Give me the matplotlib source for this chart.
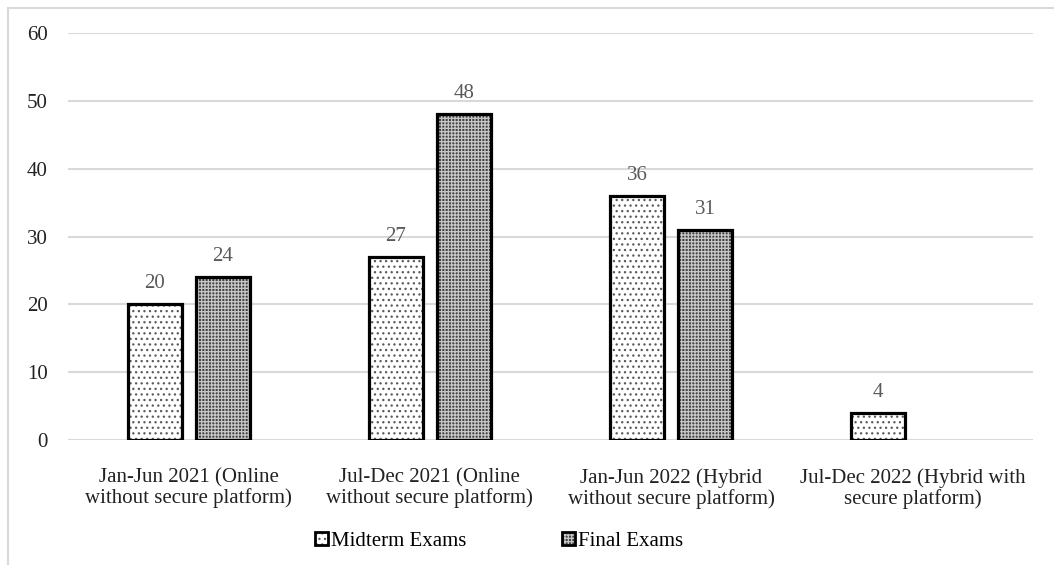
import numpy as np
import matplotlib
matplotlib.use("Agg")
import matplotlib.pyplot as plt
from matplotlib.patches import Patch, Rectangle

plt.rcParams['font.family'] = ['Liberation Serif', 'DejaVu Serif']
plt.rcParams['hatch.linewidth'] = 0.9

categories = [
    "Jan-Jun 2021 (Online\nwithout secure platform)",
    "Jul-Dec 2021 (Online\nwithout secure platform)",
    "Jan-Jun 2022 (Hybrid\nwithout secure platform)",
    "Jul-Dec 2022 (Hybrid with\nsecure platform)",
]
midterm = [20, 27, 36, 4]
final = [24, 48, 31, np.nan]
series_names = ["Midterm Exams", "Final Exams"]
yticks = [0, 10, 20, 30, 40, 50, 60]

W, H = 1054, 565
fig = plt.figure(figsize=(W / 100, H / 100), dpi=100)
ax = fig.add_axes([68 / W, 125 / H, (1033 - 68) / W, (532 - 125) / H])

# light outer frame of the chart area
fig.patches.append(Rectangle((8 / W, -0.1), 1.2, (H - 8) / H + 0.1,
                             transform=fig.transFigure, fill=False,
                             edgecolor='#d9d9d9', linewidth=1.5, zorder=0))

x = np.arange(len(categories))
bw = 0.224
off = 0.141
FS = 15

styles = [
    dict(facecolor='white', hatchcol='#5a5a5a', hatch='...'),
    dict(facecolor='#444444', hatchcol='#c8c8c8', hatch='+++++'),
]

handles = []
for vals, sgn, st in zip([midterm, final], [-1, 1], styles):
    pos = x + sgn * off
    ax.bar(pos, vals, bw, color=st['facecolor'], edgecolor=st['hatchcol'],
           hatch=st['hatch'], linewidth=0, zorder=2)
    ax.bar(pos, vals, bw, fill=False, edgecolor='black', linewidth=2.3, zorder=3)
    for p, v in zip(pos, vals):
        if not np.isnan(v):
            ax.annotate(f"{v:g}", (p, v), xytext=(0, 8), textcoords='offset points',
                        ha='center', va='bottom', fontsize=FS, color='#595959')
    h_fill = Patch(facecolor=st['facecolor'], edgecolor=st['hatchcol'],
                   hatch=st['hatch'], linewidth=0)
    h_edge = Patch(fill=False, edgecolor='black', linewidth=2)
    handles.append((h_fill, h_edge))

ax.set_xlim(-0.5, len(categories) - 0.5)
ax.set_ylim(0, 60)
ax.set_yticks(yticks)
ax.set_xticks(x)
ax.set_xticklabels(categories, fontsize=FS, linespacing=1.1)
ax.tick_params(axis='y', labelsize=FS, length=0, pad=14.5, colors='#222222')
ax.tick_params(axis='x', length=0, pad=20, colors='#222222')
ax.yaxis.grid(True, color='#d9d9d9', linewidth=1.5, zorder=0)
ax.set_axisbelow(True)
for s in ax.spines.values():
    s.set_visible(False)

fig.legend(handles, series_names, loc='center', bbox_to_anchor=(499 / W, 1 - 541 / H),
           ncol=2, frameon=False, fontsize=FS, handlelength=0.6, handleheight=0.6,
           handletextpad=0.15, columnspacing=4.6)

fig.savefig("out.png", dpi=100)
